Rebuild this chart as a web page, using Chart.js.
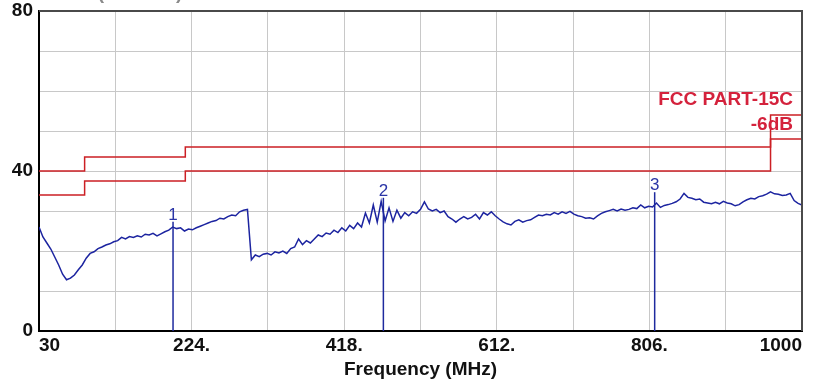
<!DOCTYPE html>
<html>
<head>
<meta charset="utf-8">
<script src="https://cdn.jsdelivr.net/npm/chart.js@4"></script>
<style>
  html, body { margin: 0; padding: 0; background: #fff; }
</style>
</head>
<body>
<canvas id="emcChart" width="818" height="385"></canvas>
<script>
// Sweep 30 - 1000 MHz, one reading every 5 MHz (dBuV/m)
const sweepStart = 30;
const sweepStep = 5;
const levels = [
  26.0, 23.5, 22.0, 20.5, 18.5, 16.5, 14.2, 12.8, 13.2, 14.0,
  15.3, 16.5, 18.2, 19.4, 19.8, 20.6, 21.0, 21.5, 21.8, 22.3,
  22.6, 23.4, 23.0, 23.6, 23.4, 23.8, 23.5, 24.2, 24.0, 24.4,
  23.8, 24.3, 24.8, 25.2, 26.0, 25.6, 25.8, 25.0, 25.5, 25.3,
  25.8, 26.2, 26.6, 27.0, 27.4, 27.6, 28.2, 28.0, 28.6, 29.0,
  28.8, 29.8, 30.2, 30.4, 17.8, 19.0, 18.6, 19.2, 19.4, 19.0,
  19.8, 19.5, 20.0, 19.4, 20.6, 21.0, 23.0, 21.6, 22.6, 22.0,
  23.0, 24.0, 23.6, 24.5, 24.2, 25.2, 24.6, 25.8, 25.0, 26.4,
  25.6, 27.0, 26.0, 29.5, 27.0, 31.5, 27.2, 32.4, 27.5, 30.8,
  27.4, 30.2, 28.2, 29.6, 28.8, 29.8, 29.4, 30.4, 32.3, 30.5,
  30.0, 30.4, 29.6, 30.0, 28.6, 28.0, 27.2, 28.0, 28.6, 28.0,
  28.4, 29.2, 28.0, 29.6, 29.0, 29.8, 28.8, 28.0, 27.3, 26.8,
  26.5, 27.4, 27.8, 27.2, 27.6, 27.8, 28.4, 29.0, 28.8, 29.2,
  29.0, 29.6, 29.2, 29.8, 29.4, 29.9, 29.2, 28.8, 28.6, 28.2,
  28.3, 28.0, 28.8, 29.4, 29.8, 30.1, 30.4, 30.0, 30.5, 30.2,
  30.4, 30.8, 30.6, 31.5, 30.8, 31.2, 31.0, 32.0, 30.9, 31.4,
  31.6, 31.9, 32.3, 33.0, 34.4, 33.4, 33.2, 32.8, 33.0, 32.2,
  32.0, 31.8, 32.2, 31.8, 32.4, 32.0, 31.8, 31.3, 31.6, 32.3,
  32.8, 33.2, 33.0, 33.6, 33.8, 34.2, 34.8, 34.3, 34.2, 33.9,
  34.0, 34.4, 32.6, 31.9, 31.5
];

// FCC part 15C limit and the -6dB margin line (steps)
const limitFreq = [30, 88, 216, 960, 1000];
const limitLevel = [40, 43.5, 46, 54, 54];
const marginLevel = [34, 37.5, 40, 48, 48];

// markers
const markerNames = ['1', '2', '3'];
const markerFreq = [200.4, 467.8, 812.7];
const markerLevel = [27.3, 33.3, 34.7];

// axis ticks
const xTicks = [30, 127, 224, 321, 418, 515, 612, 709, 806, 903, 1000];
const xTickLabels = ['30', '', '224.', '', '418.', '', '612.', '', '806.', '', '1000'];
const yTicks = [0, 10, 20, 30, 40, 50, 60, 70, 80];
const yTickLabels = ['0', '', '', '', '40', '', '', '', '80'];

const font = '"Liberation Sans", Arial, sans-serif';

const traceData = levels.map((v, i) => ({ x: sweepStart + i * sweepStep, y: v }));
const limitData = limitFreq.map((f, i) => ({ x: f, y: limitLevel[i] }));
const marginData = limitFreq.map((f, i) => ({ x: f, y: marginLevel[i] }));
const markerSets = markerFreq.map((f, i) => ({
  label: 'Marker ' + markerNames[i],
  data: [{ x: f, y: 0 }, { x: f, y: markerLevel[i] }],
  borderColor: '#1e2a9e',
  borderWidth: 1.5,
  pointRadius: 0
}));

// frame + text annotations
const extras = {
  id: 'extras',
  afterDatasetsDraw(chart) {
    const { ctx, chartArea: a, scales: { x, y } } = chart;
    ctx.save();
    ctx.strokeStyle = '#4a4a4a';
    ctx.lineWidth = 2;
    ctx.beginPath();
    ctx.moveTo(a.left, a.top);
    ctx.lineTo(a.right, a.top);
    ctx.lineTo(a.right, a.bottom);
    ctx.stroke();

    ctx.fillStyle = '#2a34a6';
    ctx.font = '17px ' + font;
    ctx.textAlign = 'center';
    ctx.textBaseline = 'bottom';
    markerNames.forEach((n, i) => {
      ctx.fillText(n, x.getPixelForValue(markerFreq[i]), y.getPixelForValue(markerLevel[i]) + 2);
    });

    ctx.fillStyle = '#d4223c';
    ctx.font = 'bold 19px ' + font;
    ctx.textAlign = 'right';
    ctx.textBaseline = 'middle';
    ctx.fillText('FCC PART-15C', a.right - 9, y.getPixelForValue(57.8));
    ctx.fillText('-6dB', a.right - 9, y.getPixelForValue(51.5));

    // y title, mostly cut off at the top edge
    ctx.fillStyle = '#8a8a8a';
    ctx.textAlign = 'left';
    ctx.textBaseline = 'alphabetic';
    ctx.fillText('Level (dBuV/m)', 44, -1);
    ctx.restore();
  }
};

new Chart(document.getElementById('emcChart'), {
  type: 'line',
  data: {
    datasets: [
      {
        label: 'Level',
        data: traceData,
        borderColor: '#1c24a0',
        borderWidth: 1.5,
        pointRadius: 0
      },
      {
        label: 'FCC PART-15C',
        data: limitData,
        stepped: 'before',
        borderColor: '#cc1f24',
        borderWidth: 1.5,
        pointRadius: 0
      },
      {
        label: '-6dB',
        data: marginData,
        stepped: 'before',
        borderColor: '#cc1f24',
        borderWidth: 1.5,
        pointRadius: 0
      },
      ...markerSets
    ]
  },
  options: {
    responsive: false,
    animation: false,
    devicePixelRatio: 1,
    layout: { padding: { top: 11, right: 16, left: 0, bottom: 0 } },
    plugins: { legend: { display: false }, tooltip: { enabled: false } },
    scales: {
      x: {
        type: 'linear',
        min: 30,
        max: 1000,
        afterBuildTicks: s => { s.ticks = xTicks.map(v => ({ value: v })); },
        afterFit: s => { s.height = 54; s.paddingLeft = 0; s.paddingRight = 0; },
        grid: { color: '#c8c8c8', lineWidth: 1, drawTicks: false },
        border: { color: '#000', width: 2 },
        ticks: {
          autoSkip: false,
          maxRotation: 0,
          align: 'inner',
          padding: 3,
          color: '#111',
          font: { family: font, size: 19, weight: 'bold' },
          callback: (v, i) => xTickLabels[i]
        },
        title: {
          display: true,
          text: 'Frequency (MHz)',
          color: '#111',
          font: { family: font, size: 19, weight: 'bold' },
          padding: { top: 0, bottom: 4 }
        }
      },
      y: {
        min: 0,
        max: 80,
        afterBuildTicks: s => { s.ticks = yTicks.map(v => ({ value: v })); },
        afterFit: s => { s.width = 39; s.paddingTop = 0; s.paddingBottom = 0; },
        grid: { color: '#c8c8c8', lineWidth: 1, drawTicks: false },
        border: { color: '#000', width: 2 },
        ticks: {
          padding: 6,
          color: '#111',
          font: { family: font, size: 19, weight: 'bold' },
          callback: (v, i) => yTickLabels[i]
        }
      }
    }
  },
  plugins: [extras]
});
</script>
</body>
</html>
